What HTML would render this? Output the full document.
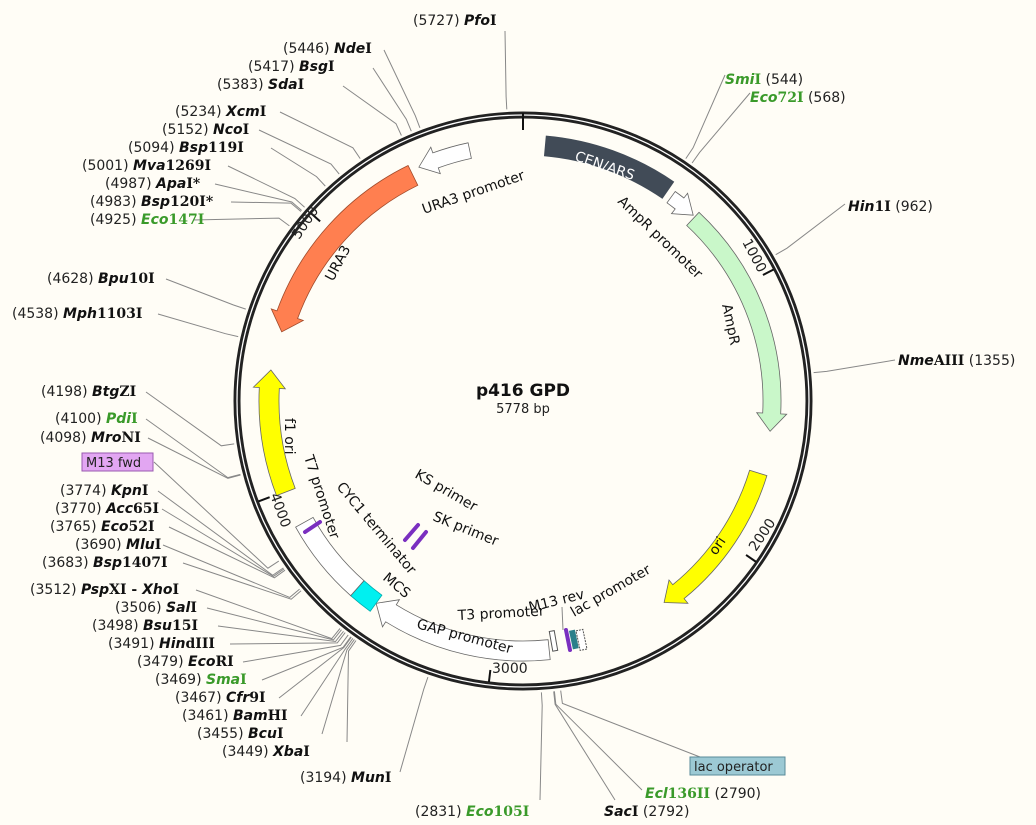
<!DOCTYPE html>
<html><head><meta charset="utf-8">
<style>
html,body{margin:0;padding:0;background:#fffdf6;}
svg{display:block}
.n{font-family:"DejaVu Sans","Liberation Sans",sans-serif;font-size:14px;fill:#222}
.e{font-family:"DejaVu Serif","Liberation Serif",serif;font-size:14px;font-weight:bold;fill:#111}
.i{font-family:"DejaVu Sans","Liberation Sans",sans-serif;font-style:italic}
.g{fill:#3a9a2a}
.f{font-family:"DejaVu Sans","Liberation Sans",sans-serif;font-size:14px;fill:#111}
</style></head><body>
<svg id="s" width="1036" height="825" viewBox="0 0 1036 825" xmlns="http://www.w3.org/2000/svg">
<rect width="1036" height="825" fill="#fffdf6"/>
<g id="lines" stroke="#888" stroke-width="1" fill="none"></g>
<circle cx="523" cy="401" r="286" fill="none" stroke="#222" stroke-width="7"/>
<circle cx="523" cy="401" r="286" fill="none" stroke="#fff" stroke-width="1.3"/>
<g id="feat"></g>
<line x1="523" y1="113" x2="523" y2="130" stroke="#111" stroke-width="2"/>

<text x="523" y="396" text-anchor="middle" font-family="DejaVu Sans,Liberation Sans,sans-serif" font-size="17" font-weight="bold" fill="#111">p416 GPD</text>
<text x="523" y="413" text-anchor="middle" class="n" style="font-size:13px">5778 bp</text>

<text class="n" transform="translate(742,242) rotate(62)">1000</text>
<text class="n" transform="translate(756,552) rotate(-56)">2000</text>
<text class="n" x="492" y="673">3000</text>
<text class="n" transform="translate(270,495) rotate(70)">4000</text>
<text class="n" transform="translate(299,240) rotate(-56)">5000</text>

<text class="f" style="fill:#fff" transform="translate(574,160) rotate(19)">CEN/ARS</text>
<text class="f" transform="translate(424,214) rotate(-19)">URA3 promoter</text>
<text class="f" transform="translate(617,202) rotate(44)">AmpR promoter</text>
<text class="f" transform="translate(722,305) rotate(78)">AmpR</text>
<text class="f" transform="translate(716,556) rotate(-56)">ori</text>
<text class="f" transform="translate(574,617) rotate(-30)">lac promoter</text>
<text class="f" transform="translate(530,612) rotate(-14)">M13 rev</text>
<text class="f" transform="translate(458,620) rotate(-3)">T3 promoter</text>
<text class="f" transform="translate(416,628) rotate(15)">GAP promoter</text>
<text class="f" transform="translate(382,579) rotate(40)">MCS</text>
<text class="f" transform="translate(336,487) rotate(50)">CYC1 terminator</text>
<text class="f" transform="translate(304,457) rotate(72)">T7 promoter</text>
<text class="f" transform="translate(285,418) rotate(90)">f1 ori</text>
<text class="f" transform="translate(333,282) rotate(-62)">URA3</text>
<text class="f" transform="translate(414,477) rotate(30)">KS primer</text>
<text class="f" transform="translate(432,520) rotate(22)">SK primer</text>

<g stroke="#7a2fc0" stroke-width="4" stroke-linecap="round">
<line x1="405" y1="540" x2="418" y2="525"/>
<line x1="413" y1="548" x2="426" y2="532"/>
<line x1="305" y1="532" x2="320" y2="522"/>
<line x1="566" y1="630" x2="570" y2="650"/>
</g>
<rect x="571" y="630" width="6" height="19" fill="#2a7f8a" transform="rotate(-12 574 640)"/>
<rect x="578" y="630" width="7" height="20" fill="#fff" stroke="#555" stroke-dasharray="2,1" transform="rotate(-12 581 640)"/>
<rect x="551" y="631" width="5" height="20" fill="#fff" stroke="#555" transform="rotate(-10 553 641)"/>
<line x1="562" y1="607" x2="563" y2="630" stroke="#888"/>

<g>
<text x="413" y="25"><tspan class="n">(5727) </tspan><tspan class="e i">Pfo</tspan><tspan class="e">I</tspan></text>
<text x="283" y="53"><tspan class="n">(5446) </tspan><tspan class="e i">Nde</tspan><tspan class="e">I</tspan></text>
<text x="248" y="71"><tspan class="n">(5417) </tspan><tspan class="e i">Bsg</tspan><tspan class="e">I</tspan></text>
<text x="217" y="89"><tspan class="n">(5383) </tspan><tspan class="e i">Sda</tspan><tspan class="e">I</tspan></text>
<text x="175" y="116"><tspan class="n">(5234) </tspan><tspan class="e i">Xcm</tspan><tspan class="e">I</tspan></text>
<text x="162" y="134"><tspan class="n">(5152) </tspan><tspan class="e i">Nco</tspan><tspan class="e">I</tspan></text>
<text x="128" y="152"><tspan class="n">(5094) </tspan><tspan class="e i">Bsp</tspan><tspan class="e">119I</tspan></text>
<text x="82" y="170"><tspan class="n">(5001) </tspan><tspan class="e i">Mva</tspan><tspan class="e">1269I</tspan></text>
<text x="105" y="188"><tspan class="n">(4987) </tspan><tspan class="e i">Apa</tspan><tspan class="e">I*</tspan></text>
<text x="90" y="206"><tspan class="n">(4983) </tspan><tspan class="e i">Bsp</tspan><tspan class="e">120I*</tspan></text>
<text x="90" y="224"><tspan class="n">(4925) </tspan><tspan class="e i g">Eco</tspan><tspan class="e g">147I</tspan></text>
<text x="47" y="283"><tspan class="n">(4628) </tspan><tspan class="e i">Bpu</tspan><tspan class="e">10I</tspan></text>
<text x="12" y="318"><tspan class="n">(4538) </tspan><tspan class="e i">Mph</tspan><tspan class="e">1103I</tspan></text>
<text x="41" y="396"><tspan class="n">(4198) </tspan><tspan class="e i">Btg</tspan><tspan class="e">ZI</tspan></text>
<text x="55" y="423"><tspan class="n">(4100) </tspan><tspan class="e i g">Pdi</tspan><tspan class="e g">I</tspan></text>
<text x="40" y="442"><tspan class="n">(4098) </tspan><tspan class="e i">Mro</tspan><tspan class="e">NI</tspan></text>
<rect x="82" y="453" width="71" height="18" fill="#e2a6f2" stroke="#9a5ab0"/>
<text x="86" y="467" class="n" style="font-size:13px">M13 fwd</text>
<text x="60" y="495"><tspan class="n">(3774) </tspan><tspan class="e i">Kpn</tspan><tspan class="e">I</tspan></text>
<text x="55" y="513"><tspan class="n">(3770) </tspan><tspan class="e i">Acc</tspan><tspan class="e">65I</tspan></text>
<text x="50" y="531"><tspan class="n">(3765) </tspan><tspan class="e i">Eco</tspan><tspan class="e">52I</tspan></text>
<text x="75" y="549"><tspan class="n">(3690) </tspan><tspan class="e i">Mlu</tspan><tspan class="e">I</tspan></text>
<text x="42" y="567"><tspan class="n">(3683) </tspan><tspan class="e i">Bsp</tspan><tspan class="e">1407I</tspan></text>
<text x="30" y="594"><tspan class="n">(3512) </tspan><tspan class="e i">Psp</tspan><tspan class="e">XI - </tspan><tspan class="e i">Xho</tspan><tspan class="e">I</tspan></text>
<text x="115" y="612"><tspan class="n">(3506) </tspan><tspan class="e i">Sal</tspan><tspan class="e">I</tspan></text>
<text x="92" y="630"><tspan class="n">(3498) </tspan><tspan class="e i">Bsu</tspan><tspan class="e">15I</tspan></text>
<text x="108" y="648"><tspan class="n">(3491) </tspan><tspan class="e i">Hin</tspan><tspan class="e">dIII</tspan></text>
<text x="137" y="666"><tspan class="n">(3479) </tspan><tspan class="e i">Eco</tspan><tspan class="e">RI</tspan></text>
<text x="155" y="684"><tspan class="n">(3469) </tspan><tspan class="e i g">Sma</tspan><tspan class="e g">I</tspan></text>
<text x="175" y="702"><tspan class="n">(3467) </tspan><tspan class="e i">Cfr</tspan><tspan class="e">9I</tspan></text>
<text x="182" y="720"><tspan class="n">(3461) </tspan><tspan class="e i">Bam</tspan><tspan class="e">HI</tspan></text>
<text x="197" y="738"><tspan class="n">(3455) </tspan><tspan class="e i">Bcu</tspan><tspan class="e">I</tspan></text>
<text x="222" y="756"><tspan class="n">(3449) </tspan><tspan class="e i">Xba</tspan><tspan class="e">I</tspan></text>
<text x="300" y="782"><tspan class="n">(3194) </tspan><tspan class="e i">Mun</tspan><tspan class="e">I</tspan></text>
<text x="415" y="816"><tspan class="n">(2831) </tspan><tspan class="e i g">Eco</tspan><tspan class="e g">105I</tspan></text>
<text x="604" y="816"><tspan class="e i">Sac</tspan><tspan class="e">I</tspan><tspan class="n"> (2792)</tspan></text>
<text x="645" y="798"><tspan class="e i g">Ecl</tspan><tspan class="e g">136II</tspan><tspan class="n"> (2790)</tspan></text>
<rect x="690" y="757" width="95" height="18" fill="#9cc9d4" stroke="#5a8a99"/>
<text x="694" y="771" class="n" style="font-size:13px">lac operator</text>
<text x="725" y="84"><tspan class="e i g">Smi</tspan><tspan class="e g">I</tspan><tspan class="n"> (544)</tspan></text>
<text x="750" y="102"><tspan class="e i g">Eco</tspan><tspan class="e g">72I</tspan><tspan class="n"> (568)</tspan></text>
<text x="848" y="211"><tspan class="e i">Hin</tspan><tspan class="e">1I</tspan><tspan class="n"> (962)</tspan></text>
<text x="898" y="365"><tspan class="e i">Nme</tspan><tspan class="e">AIII</tspan><tspan class="n"> (1355)</tspan></text>
</g>
</svg>
<script>
(function(){
var cx=523,cy=401,N=5778,NS="http://www.w3.org/2000/svg";
function P(r,d){var a=d*Math.PI/180;return [cx+r*Math.sin(a),cy-r*Math.cos(a)];}
function f(p){return p[0].toFixed(1)+","+p[1].toFixed(1);}
var feat=document.getElementById("feat"),lines=document.getElementById("lines");
function add(par,tag,at){var e=document.createElementNS(NS,tag);for(var k in at)e.setAttribute(k,at[k]);par.appendChild(e);return e;}
function arrow(a1,a2,r,w,fill,dir,stroke){
 var ro=r+w/2,ri=r-w/2,h=18/r*180/Math.PI,hw=6,d;
 var la=function(s){return Math.abs(s)>180?1:0;};
 if(dir==1){var b=a2-h;
  d="M"+f(P(ro,a1))+" A"+ro+","+ro+" 0 "+la(b-a1)+" 1 "+f(P(ro,b))+" L"+f(P(ro+hw,b))+" L"+f(P(r,a2))+" L"+f(P(ri-hw,b))+" L"+f(P(ri,b))+" A"+ri+","+ri+" 0 "+la(b-a1)+" 0 "+f(P(ri,a1))+" Z";
 }else if(dir==-1){var b=a1+h;
  d="M"+f(P(ro,a2))+" A"+ro+","+ro+" 0 "+la(a2-b)+" 0 "+f(P(ro,b))+" L"+f(P(ro+hw,b))+" L"+f(P(r,a1))+" L"+f(P(ri-hw,b))+" L"+f(P(ri,b))+" A"+ri+","+ri+" 0 "+la(a2-b)+" 1 "+f(P(ri,a2))+" Z";
 }else{
  d="M"+f(P(ro,a1))+" A"+ro+","+ro+" 0 "+la(a2-a1)+" 1 "+f(P(ro,a2))+" L"+f(P(ri,a2))+" A"+ri+","+ri+" 0 "+la(a2-a1)+" 0 "+f(P(ri,a1))+" Z";
 }
 add(feat,"path",{d:d,fill:fill,stroke:stroke||"#666","stroke-width":0.8});
}
arrow(5,34.5,256,20,"#414b57",0,"#414b57");
arrow(36,42.5,252,14,"#fff",1);
arrow(43,97,249,18,"#c9f7c9",1);
arrow(107,145,246,18,"#ffff00",1);
arrow(174,216,250,20,"#fff",1);
arrow(216,221.5,250,20,"#00f0f0",0,"#0aa");
arrow(221.5,241,250,20,"#fff",0);
arrow(249,277,254,20,"#ffff00",1);
arrow(286,334,251,22,"#ff7f50",-1,"#a04a2a");
arrow(336,348,256,16,"#fff",-1);
[1000,2000,3000,4000,5000].forEach(function(b){var d=b/N*360;add(feat,"line",{x1:P(271,d)[0],y1:P(271,d)[1],x2:P(283,d)[0],y2:P(283,d)[1],stroke:"#111","stroke-width":2});});
var L=[[505,31,5727],[384,50,5446],[373,68,5417],[343,86,5383],[280,112,5234],[259,130,5152],[271,148,5094],[228,166,5001],[215,184,4987],[231,202,4983],[193,220,4925],[166,279,4628],[158,314,4538],[146,392,4198],[146,419,4100],[148,438,4098],[154,462,3800],[158,491,3774],[162,509,3770],[169,527,3765],[163,545,3690],[183,563,3683],[196,590,3512],[207,608,3506],[218,626,3498],[230,644,3491],[243,662,3479],[262,680,3469],[279,698,3467],[301,716,3461],[322,734,3455],[347,742,3449],[400,772,3194],[540,800,2831],[615,800,2792],[642,790,2790],[700,757,2770],[725,75,544],[750,93,568],[845,204,962],[895,360,1355]];
L.forEach(function(l){var d=l[2]/N*360,p=P(292,d),q=P(305,d);
 add(lines,"polyline",{points:l[0]+","+l[1]+" "+f(q)+" "+f(p)});});
})();
</script>
</body></html>
